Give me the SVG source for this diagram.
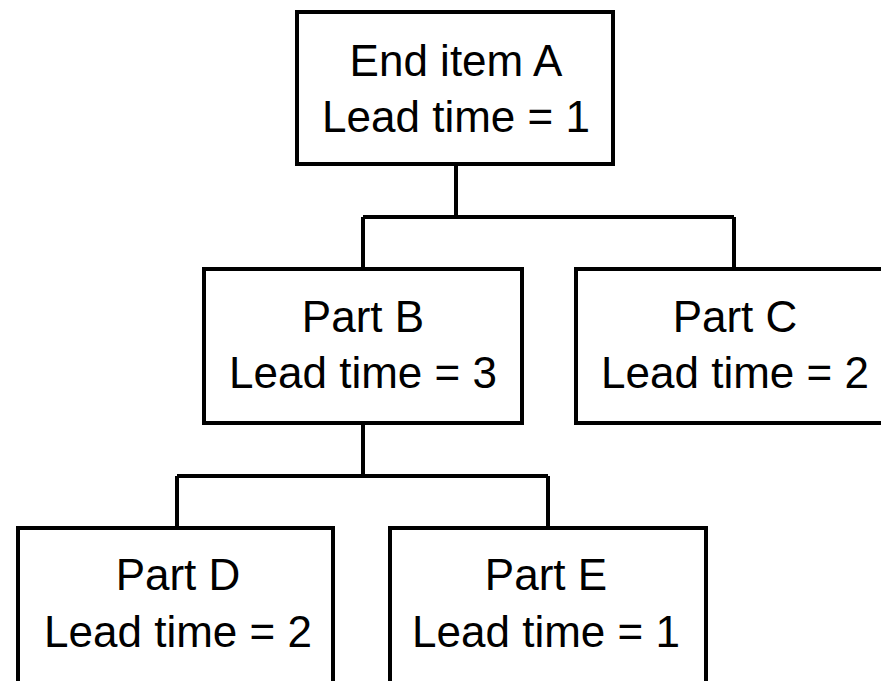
<svg xmlns="http://www.w3.org/2000/svg" width="881" height="681" viewBox="0 0 881 681">
<style>
.box{fill:#fff;stroke:#000;stroke-width:4}
.ln{fill:none;stroke:#000;stroke-width:4}
text{font-family:"Liberation Sans",Arial,sans-serif;font-size:44px;fill:#000;text-anchor:middle}
</style>
<rect width="881" height="681" fill="#fff"/>
<g id="connectors">
<path class="ln" d="M456 164V217M363 217H734M363 217V269M734 217V269"/>
<path class="ln" d="M363 423V476M177 476H548M177 476V528M548 476V528"/>
</g>
<g id="nodeA">
<rect class="box" x="297" y="12" width="316" height="152"/>
<text x="456" y="76">End item A</text>
<text x="456" y="132">Lead time = 1</text>
</g>
<g id="nodeB">
<rect class="box" x="204" y="269" width="318" height="154"/>
<text x="363" y="332">Part B</text>
<text x="363" y="388">Lead time = 3</text>
</g>
<g id="nodeC">
<rect class="box" x="576" y="269" width="318" height="154"/>
<text x="735" y="332">Part C</text>
<text x="735" y="388">Lead time = 2</text>
</g>
<g id="nodeD">
<rect class="box" x="18" y="528" width="315" height="170"/>
<text x="178" y="590">Part D</text>
<text x="178" y="647">Lead time = 2</text>
</g>
<g id="nodeE">
<rect class="box" x="390" y="528" width="316" height="170"/>
<text x="546" y="590">Part E</text>
<text x="546" y="647">Lead time = 1</text>
</g>
</svg>
